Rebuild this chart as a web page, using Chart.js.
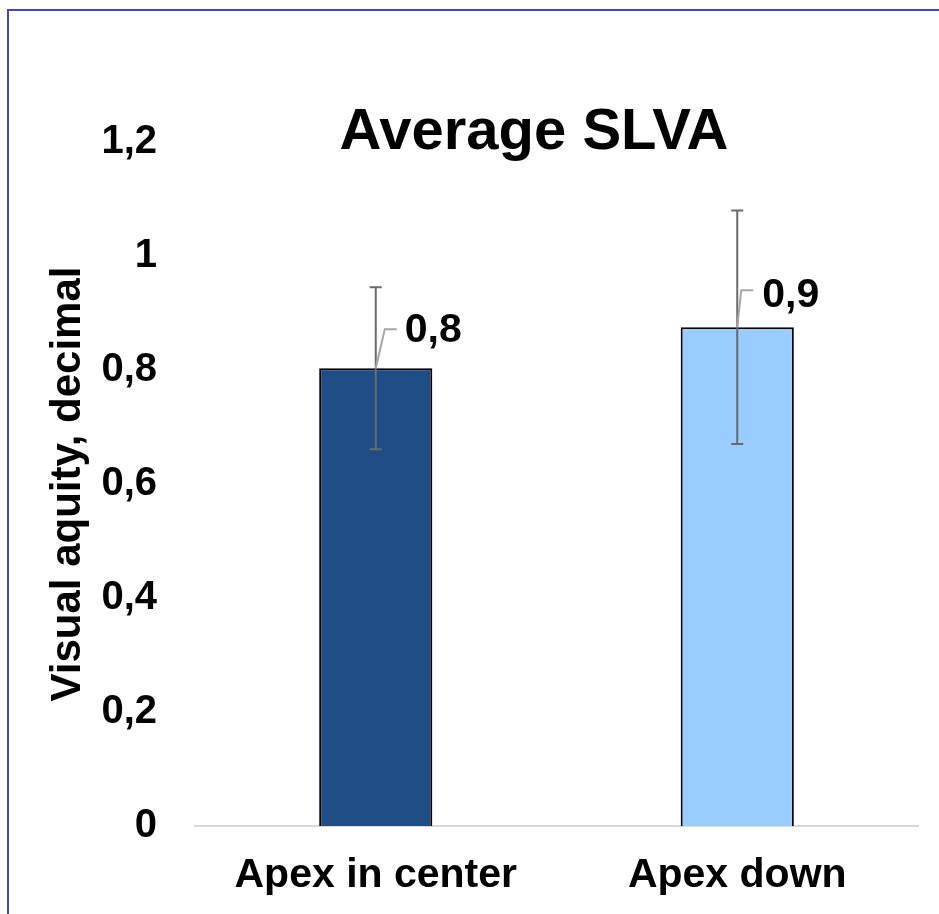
<!DOCTYPE html>
<html>
<head>
<meta charset="utf-8">
<script src="https://cdn.jsdelivr.net/npm/chart.js@4.4.1/dist/chart.umd.min.js"></script>
<style>
  html, body { margin: 0; padding: 0; background: #ffffff; overflow: hidden; width: 939px; height: 914px; }
  #frame { position: absolute; left: 7px; top: 9px; width: 1200px; height: 1200px; border: 2px solid #3c46c6; box-sizing: border-box; pointer-events: none; }
  canvas { position: absolute; left: 0; top: 0; }
</style>
</head>
<body>
<canvas id="c" width="939" height="914"></canvas>
<div id="frame"></div>
<script>
// ---- data ----
const categories = ['Apex in center', 'Apex down'];
const values = [0.803, 0.875];
const errors = [0.142, 0.205];
const yTickLabels = ['0', '0,2', '0,4', '0,6', '0,8', '1', '1,2'];
const titleText = 'Average SLVA';
const yAxisTitle = 'Visual aquity, decimal';

const barColors = ['#1F4E86', '#99CCFF'];
const FONT = '"Liberation Sans", Arial, sans-serif';

function fmt(v) { return v.toFixed(1).replace('.', ','); }

const overlayPlugin = {
  id: 'overlay',
  afterDatasetsDraw(chart, args, opts) {
    const ctx = chart.ctx;
    const y = chart.scales.y;
    const meta = chart.getDatasetMeta(0);
    ctx.save();
    // error bars
    meta.data.forEach((bar, i) => {
      const x = bar.x;
      const yt = y.getPixelForValue(values[i] + errors[i]);
      const yb = y.getPixelForValue(values[i] - errors[i]);
      ctx.strokeStyle = opts.errColor;
      ctx.lineWidth = 2;
      ctx.beginPath();
      ctx.moveTo(x, yt); ctx.lineTo(x, yb);
      ctx.moveTo(x - opts.capHalf, yt); ctx.lineTo(x + opts.capHalf, yt);
      ctx.moveTo(x - opts.capHalf, yb); ctx.lineTo(x + opts.capHalf, yb);
      ctx.stroke();
    });
    // leader lines + data labels
    meta.data.forEach((bar, i) => {
      const o = opts.labelOffsets[i];
      const x = bar.x, top = bar.y;
      ctx.strokeStyle = opts.leaderColor;
      ctx.lineWidth = 2;
      ctx.beginPath();
      ctx.moveTo(x, top);
      ctx.lineTo(x + o.kx, top + o.ky);
      ctx.lineTo(x + o.hx, top + o.ky);
      ctx.stroke();
      ctx.fillStyle = '#000';
      ctx.font = 'bold 41px ' + FONT;
      ctx.textAlign = 'left';
      ctx.textBaseline = 'alphabetic';
      ctx.fillText(fmt(values[i]), x + o.dx, top + o.dy);
    });
    // chart title
    ctx.font = 'bold 58px ' + FONT;
    ctx.textAlign = 'center';
    ctx.textBaseline = 'alphabetic';
    ctx.fillStyle = '#000';
    ctx.fillText(titleText, opts.titleX, opts.titleY);
    ctx.restore();
  }
};

new Chart(document.getElementById('c'), {
  type: 'bar',
  data: {
    labels: categories,
    datasets: [{
      data: values,
      backgroundColor: barColors,
      borderColor: '#000000',
      borderWidth: 2,
      barPercentage: 0.313,
      categoryPercentage: 1.0
    }]
  },
  options: {
    responsive: false,
    animation: false,
    devicePixelRatio: 1,
    layout: { padding: { top: 142, right: 21, left: 0, bottom: 0 } },
    plugins: {
      legend: { display: false },
      tooltip: { enabled: false },
      title: { display: false },
      overlay: {
        errColor: '#6A6A6A',
        leaderColor: '#A6A6A6',
        capHalf: 6,
        titleX: 534,
        titleY: 149,
        labelOffsets: [
          { kx: 9, ky: -39, hx: 21, dx: 29, dy: -26 },
          { kx: 4, ky: -37, hx: 16, dx: 25, dy: -20 }
        ]
      }
    },
    scales: {
      x: {
        grid: { display: false, drawTicks: false },
        border: { display: true, color: '#D9D9D9', width: 2 },
        ticks: { color: '#000', font: { family: FONT, size: 41, weight: 'bold' }, padding: 25, maxRotation: 0 },
        afterFit(s) { s.height = 88; }
      },
      y: {
        min: 0, max: 1.2,
        grid: { display: false, drawTicks: false },
        border: { display: false },
        ticks: {
          stepSize: 0.2,
          color: '#000',
          padding: 38,
          font: { family: FONT, size: 40, weight: 'bold' },
          callback: (v, i) => yTickLabels[i]
        },
        title: {
          display: true,
          text: yAxisTitle,
          color: '#000',
          font: { family: FONT, size: 42, weight: 'bold' },
          padding: { top: 43, bottom: 0 }
        },
        afterFit(s) { s.width = 195; }
      }
    }
  },
  plugins: [overlayPlugin]
});
</script>
</body>
</html>
